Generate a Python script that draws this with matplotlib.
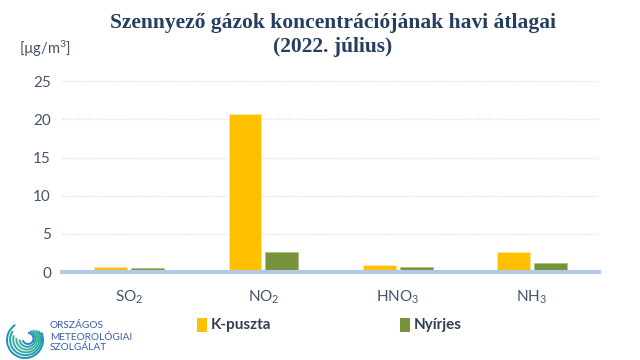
import matplotlib.pyplot as plt
import numpy as np
from matplotlib.patches import Arc, Rectangle

# data
gases = ['SO$_2$', 'NO$_2$', 'HNO$_3$', 'NH$_3$']
kpuszta = [0.7, 20.7, 0.9, 2.65]
nyirjes = [0.5, 2.65, 0.65, 1.25]
series_names = ['K-puszta', 'Nyírjes']
yticks = [0, 5, 10, 15, 20, 25]

yellow = '#FFC000'
green = '#77933C'
txt = '#44546A'
navy = '#243F60'

plt.rcParams['font.family'] = ['Lato', 'DejaVu Sans']
plt.rcParams['mathtext.fontset'] = 'custom'
plt.rcParams['mathtext.rm'] = 'Lato'
plt.rcParams['mathtext.it'] = 'Lato'

fig = plt.figure(figsize=(6.4, 3.6), dpi=100)
ax = fig.add_axes([0.097, 0.244, 0.839, 0.5306])

x = np.arange(len(gases))
w = 0.245
ax.bar(x - w / 2 - 0.015, kpuszta, w, color=yellow, edgecolor='#FFE699', linewidth=0.6, zorder=3)
ax.bar(x + w / 2 + 0.015, nyirjes, w, color=green, edgecolor='#A9C47F', linewidth=0.6, zorder=3)

ax.set_xlim(-0.5, len(gases) - 0.5)
ax.set_ylim(0, 25)
ax.set_yticks(yticks)
ax.set_yticklabels([str(t) for t in yticks], fontsize=11, color=txt)
ax.set_xticks(x)
ax.set_xticklabels(gases, fontsize=11, color=txt)
ax.tick_params(length=0, pad=12)
ax.tick_params(axis='y', pad=8)
ax.grid(axis='y', color='#D9E1F2', linestyle=(0, (1, 1)), linewidth=1, zorder=0)
for s in ['top', 'right', 'left']:
    ax.spines[s].set_visible(False)
ax.spines['bottom'].set_color('#B4C7E7')
ax.spines['bottom'].set_linewidth(3)
ax.spines['bottom'].set_zorder(4)

fig.text(0.52, 0.965, 'Szennyező gázok koncentrációjának havi átlagai\n(2022. július)',
         ha='center', va='top', fontsize=15.5, fontweight='bold', color=navy,
         family='Liberation Serif', linespacing=1.3)
fig.text(0.03, 0.865, '[µg/m$^3$]', fontsize=10.5, color=txt, va='center')

# legend
for xl, c, name in [(0.308, yellow, series_names[0]), (0.625, green, series_names[1])]:
    fig.patches.append(Rectangle((xl, 0.078), 0.016, 0.038, transform=fig.transFigure,
                                 facecolor=c, edgecolor='none'))
    fig.text(xl + 0.021, 0.097, name, fontsize=11, fontweight='bold', color='#333F50', va='center')

# logo: rough spiral and text
cx, cy = 25, 20  # pixels from bottom-left
spiral_cols = ['#1F8FB8', '#23A0B0', '#2FB09A', '#3DB98A', '#2E9FC0', '#2A86C0']
for i, r in enumerate([18, 15.5, 13, 10.5, 8, 5.5]):
    fig.patches.append(Arc(((cx + i * 0.6) / 640, (cy + i * 0.3) / 360), 2 * r / 640, 2 * r / 360,
                           theta1=110 + i * 20, theta2=400 + i * 10,
                           transform=fig.transFigure, color=spiral_cols[i], linewidth=1.4))
for k, word in enumerate(['ORSZÁGOS', 'METEOROLÓGIAI', 'SZOLGÁLAT']):
    fig.text(50 / 640, (34 - 11 * k) / 360, word, fontsize=7.3, color='#3A5BA8', va='center')

fig.savefig('out.png', dpi=100)
